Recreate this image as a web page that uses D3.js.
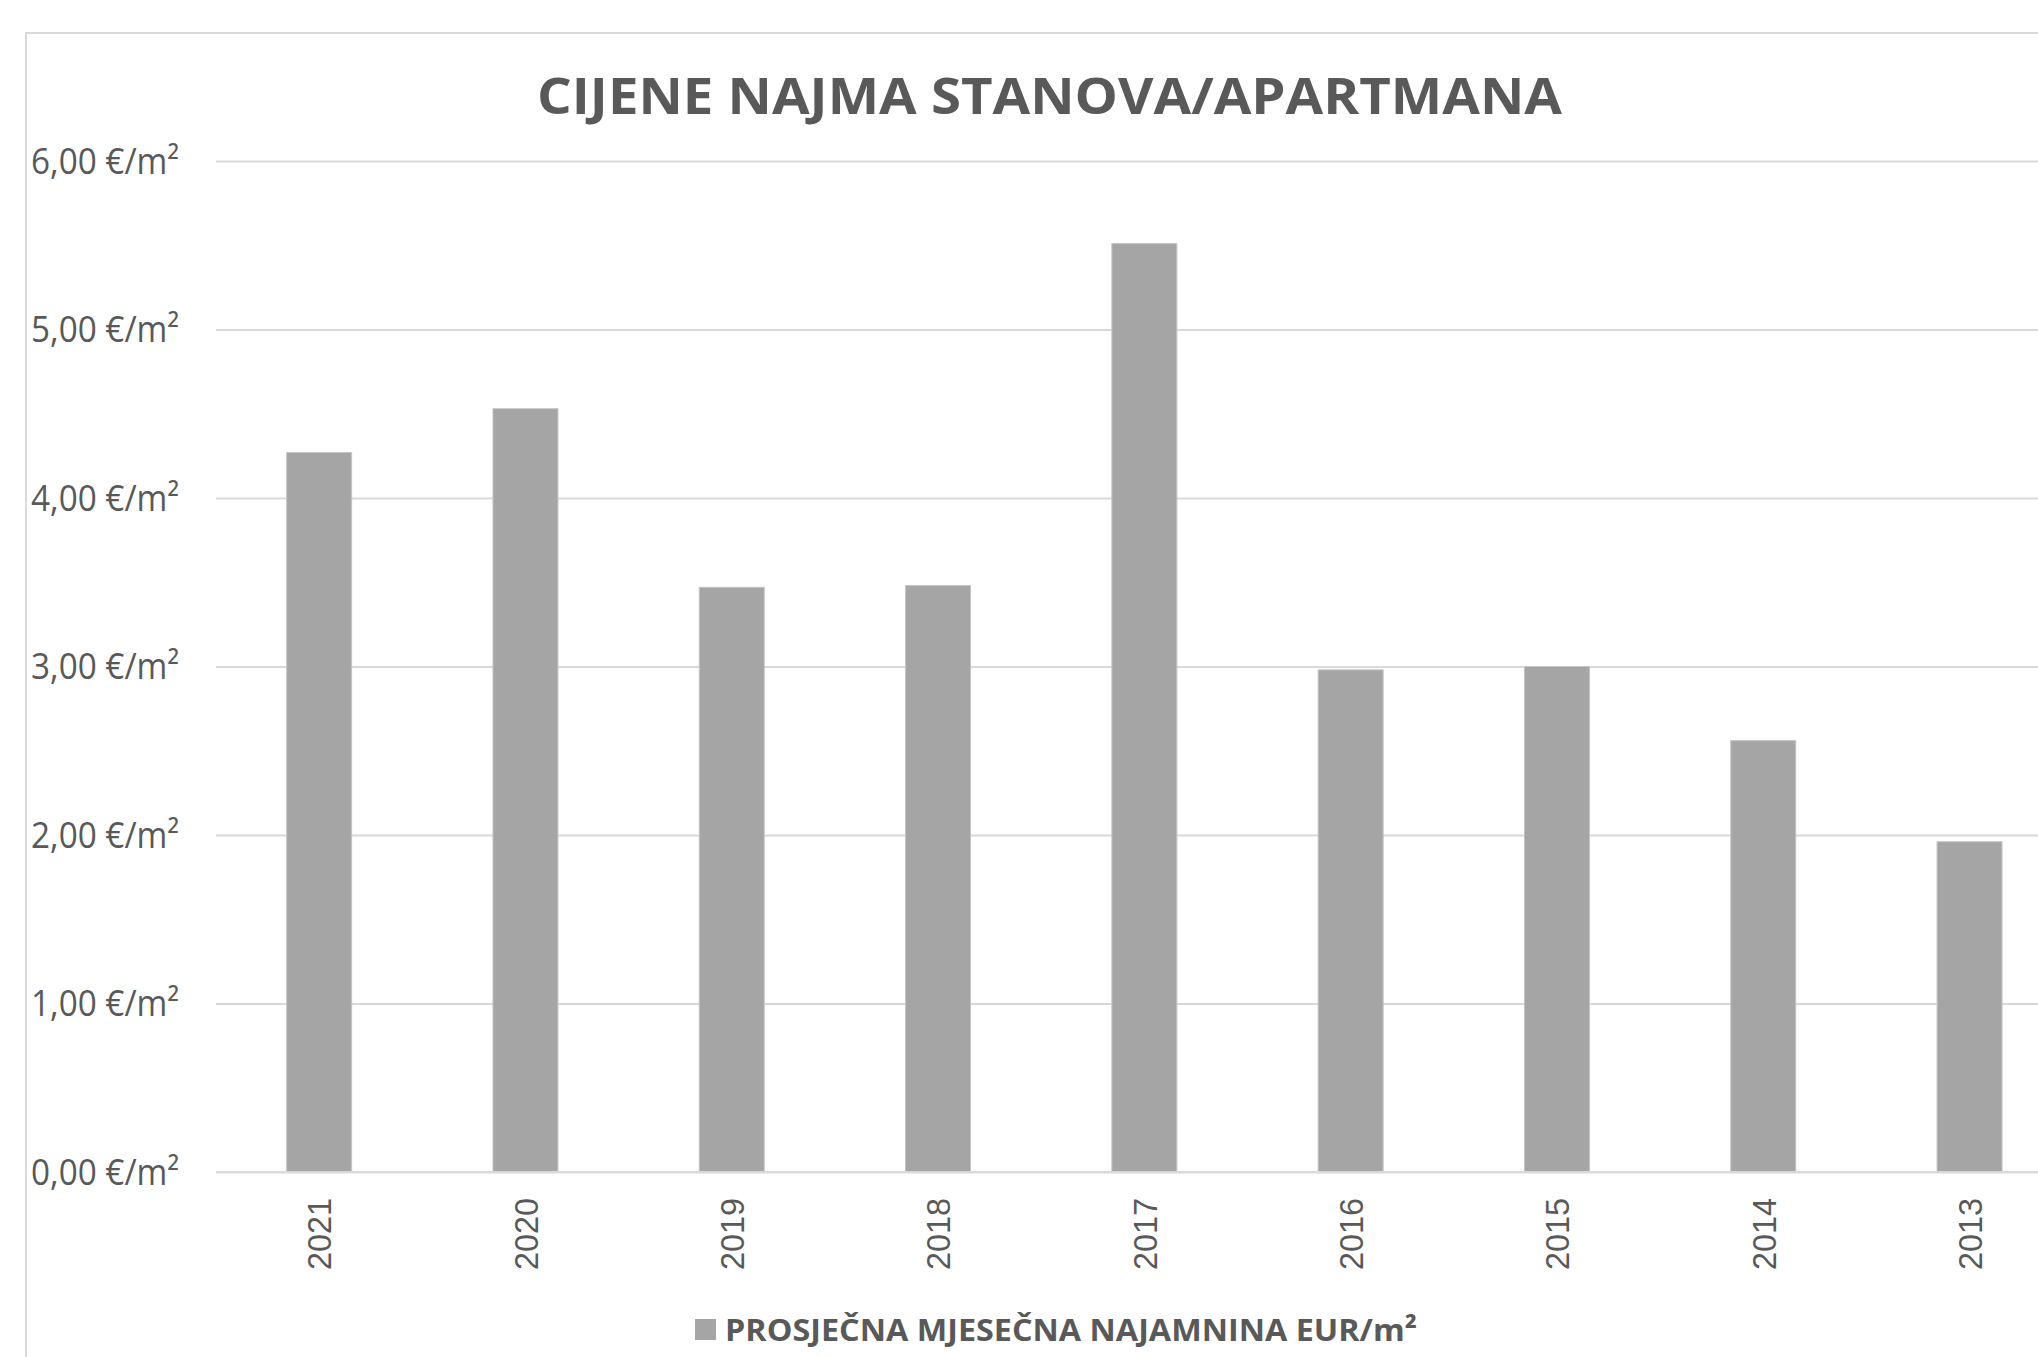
<!DOCTYPE html>
<html>
<head>
<meta charset="utf-8">
<script src="https://cdn.jsdelivr.net/npm/d3@7"></script>
<style>
  html, body { margin: 0; padding: 0; background: #ffffff; overflow: hidden; }
  svg { display: block; }
</style>
</head>
<body>
<svg id="chart" width="2038" height="1357"></svg>
<script>
const title = "CIJENE NAJMA STANOVA/APARTMANA";
const seriesName = "PROSJEČNA MJESEČNA NAJAMNINA EUR/m²";
const categories = ["2021", "2020", "2019", "2018", "2017", "2016", "2015", "2014", "2013"];
const values = [4.27, 4.53, 3.47, 3.48, 5.51, 2.98, 3.00, 2.56, 1.96];
const yTicks = [0, 1, 2, 3, 4, 5, 6];
const yTickLabels = ["0,00 €/m²", "1,00 €/m²", "2,00 €/m²", "3,00 €/m²", "4,00 €/m²", "5,00 €/m²", "6,00 €/m²"];

const textColor = "#595959";
const gridColor = "#d9d9d9";
const barColor = "#a5a5a5";

const svg = d3.select("#chart");
svg.append("rect").attr("x", 0).attr("y", 0).attr("width", 2038).attr("height", 1357).attr("fill", "#fff");

// chart border (clipped at right/bottom like the reference)
svg.append("rect")
  .attr("x", 26).attr("y", 33)
  .attr("width", 2100).attr("height", 1400)
  .attr("fill", "none").attr("stroke", gridColor).attr("stroke-width", 2);

const plot = { left: 216, right: 2072.7, top: 161, bottom: 1172 };

const x = d3.scaleBand()
  .domain(categories)
  .range([plot.left, plot.right])
  .paddingInner(0.685)
  .paddingOuter(0.3425);

const y = d3.scaleLinear()
  .domain([0, 6])
  .range([plot.bottom, plot.top]);

// gridlines + y labels via axis
const yAxis = d3.axisLeft(y)
  .tickValues(yTicks)
  .tickSize(-(plot.right - plot.left))
  .tickPadding(37)
  .tickFormat((d, i) => yTickLabels[i]);

const gy = svg.append("g")
  .attr("transform", `translate(${plot.left},0)`)
  .call(yAxis);
gy.select(".domain").remove();
gy.selectAll(".tick line").attr("stroke", gridColor).attr("stroke-width", 2);
gy.selectAll(".tick text")
  .attr("fill", textColor)
  .attr("font-family", "'Open Sans', 'Noto Sans', sans-serif")
  .attr("font-size", 36)
  .attr("dy", "0.34em")
  .attr("textLength", 148)
  .attr("lengthAdjust", "spacingAndGlyphs");

// bars
svg.append("g").selectAll("rect")
  .data(values)
  .join("rect")
  .attr("x", (d, i) => x(categories[i]))
  .attr("width", x.bandwidth())
  .attr("y", d => y(d))
  .attr("height", d => y(0) - y(d))
  .attr("fill", barColor)
  .attr("stroke", "#c4c4c4")
  .attr("stroke-width", 1);

// baseline
svg.append("line")
  .attr("x1", plot.left).attr("x2", plot.right)
  .attr("y1", y(0)).attr("y2", y(0))
  .attr("stroke", gridColor).attr("stroke-width", 2);

// x axis labels (rotated)
const xAxis = d3.axisBottom(x).tickSize(0).tickPadding(0);
const gx = svg.append("g")
  .attr("transform", `translate(0,${plot.bottom})`)
  .call(xAxis);
gx.select(".domain").remove();
gx.selectAll(".tick text")
  .attr("fill", textColor)
  .attr("font-family", "'Liberation Sans', Arial, sans-serif")
  .attr("font-size", 34)
  .attr("text-anchor", "end")
  .attr("transform", "rotate(-90)")
  .attr("x", -26)
  .attr("y", 0)
  .attr("dy", "0.36em")
  .attr("textLength", 72)
  .attr("lengthAdjust", "spacingAndGlyphs");

// title
svg.append("text")
  .attr("x", 1049.5).attr("y", 114)
  .attr("text-anchor", "middle")
  .attr("fill", textColor)
  .attr("font-family", "'Open Sans', 'Noto Sans', sans-serif")
  .attr("font-weight", "bold")
  .attr("font-size", 51)
  .attr("textLength", 1025)
  .attr("lengthAdjust", "spacingAndGlyphs")
  .text(title);

// legend
const legend = svg.append("g");
legend.append("rect")
  .attr("x", 695).attr("y", 1319)
  .attr("width", 21).attr("height", 21)
  .attr("fill", barColor);
legend.append("text")
  .attr("x", 725).attr("y", 1341)
  .attr("fill", textColor)
  .attr("font-family", "'Open Sans', 'Noto Sans', sans-serif")
  .attr("font-weight", "bold")
  .attr("font-size", 31)
  .attr("textLength", 692)
  .attr("lengthAdjust", "spacingAndGlyphs")
  .text(seriesName);
</script>
</body>
</html>
